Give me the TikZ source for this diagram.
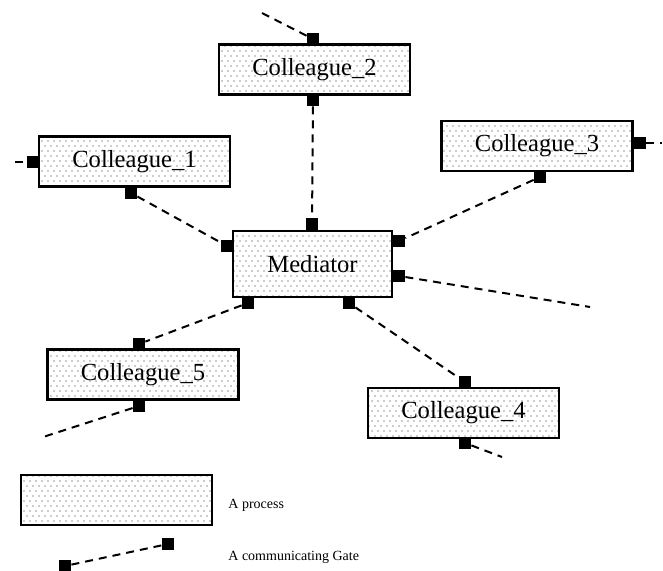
\documentclass[tikz,border=0pt]{standalone}
\usepackage{fontspec}
\setmainfont{Liberation Serif}
\usetikzlibrary{patterns}
\pgfdeclarepatternformonly{procdots}{\pgfqpoint{-0.5pt}{-0.5pt}}{\pgfqpoint{2.5pt}{4.5pt}}{\pgfqpoint{3pt}{5pt}}{
  \pgfpathcircle{\pgfqpoint{0pt}{0pt}}{0.35pt}
  \pgfpathcircle{\pgfqpoint{1.5pt}{2.5pt}}{0.35pt}
  \pgfusepath{fill}
}
\begin{document}
\begin{tikzpicture}[x=0.5pt, y=-0.5pt,
    process/.style={draw, line width=1.2pt, pattern=procdots, pattern color=black!85,
        minimum width=95.5pt, minimum height=25pt, inner sep=0pt,
        font=\fontsize{12.3}{14}\selectfont},
    gate/.style={fill=black, minimum size=6pt, inner sep=0pt},
    link/.style={line width=1pt, dash pattern=on 4pt off 3pt},
    legend/.style={anchor=base west, inner sep=0pt, font=\fontsize{7}{8}\selectfont}]
    \useasboundingbox (0,0) rectangle (663,571);
    % Processes
    \node[process, minimum width=79.5pt, minimum height=33pt] (med) at (312.5,264) {Mediator};
    \node[process] (col1) at (134.5,161.5) {Colleague\_1};
    \node[process] (col2) at (314.5,69.5) {Colleague\_2};
    \node[process] (col3) at (537,146) {Colleague\_3};
    \node[process] (col4) at (463.5,413) {Colleague\_4};
    \node[process] (col5) at (143,374.5) {Colleague\_5};
    % Gates
    \node[gate] (g2t) at (313,39) {};
    \node[gate] (g2b) at (313,100) {};
    \node[gate] (g1l) at (33,162) {};
    \node[gate] (g1b) at (131,193) {};
    \node[gate] (g3r) at (640,143) {};
    \node[gate] (g3b) at (540,177) {};
    \node[gate] (g4t) at (465,382) {};
    \node[gate] (g4b) at (465,443) {};
    \node[gate] (g5t) at (139,344) {};
    \node[gate] (g5b) at (139,406) {};
    \node[gate] (gmt) at (312,224) {};
    \node[gate] (gml) at (227,246) {};
    \node[gate] (gmr) at (399,241) {};
    \node[gate] (gmq) at (399,276) {};
    \node[gate] (gmb) at (248,303) {};
    \node[gate] (gmc) at (349,303) {};
    % Open ends
    \coordinate (e2) at (262,13);
    \coordinate (e1) at (15,162);
    \coordinate (e3) at (662,143);
    \coordinate (em) at (590,307);
    \coordinate (e5) at (40,438);
    \coordinate (e4) at (502,457);
    % Links
    \draw[link] (e2) -- (g2t);
    \draw[link] (g2b) -- (gmt);
    \draw[link] (e1) -- (g1l);
    \draw[link] (g1b) -- (gml);
    \draw[link] (g3b) -- (gmr);
    \draw[link] (g3r) -- (e3);
    \draw[link] (gmq) -- (em);
    \draw[link] (gmb) -- (g5t);
    \draw[link] (g5b) -- (e5);
    \draw[link] (gmc) -- (g4t);
    \draw[link] (g4b) -- (e4);
    % Legend
    \node[process] (key) at (116.5,500) {};
    \node[legend] (keyp) at (228,508) {A process};
    \node[gate] (kg1) at (65,566) {};
    \node[gate] (kg2) at (168,544) {};
    \draw[link] (kg1) -- (kg2);
    \node[legend] (keyg) at (228,560) {A communicating Gate};
\end{tikzpicture}
\end{document}
